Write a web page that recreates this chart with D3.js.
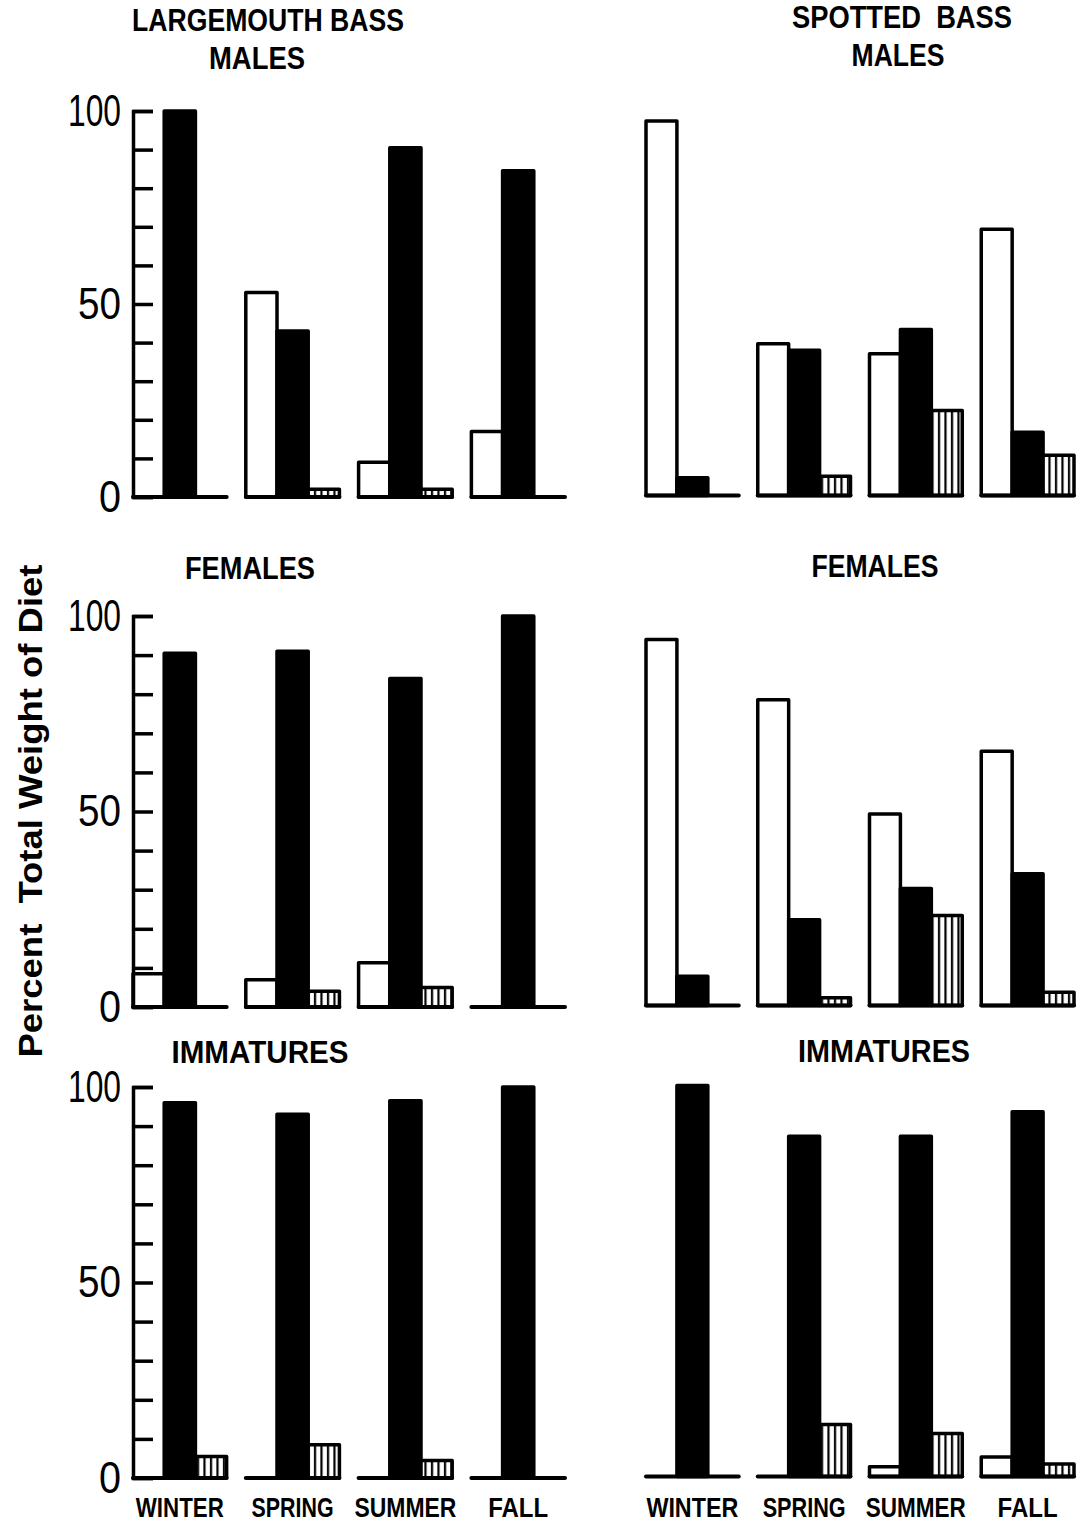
<!DOCTYPE html>
<html>
<head>
<meta charset="utf-8">
<script src="https://cdn.jsdelivr.net/npm/d3@7"></script>
<style>
    body { margin: 0; background: #fff; }
    svg { display: block; }
    text { white-space: pre; }
</style>
</head>
<body>
<div id="chartArea"></div>
<script>
// seasons along the bottom, three food bars per season
var seasons = ["WINTER", "SPRING", "SUMMER", "FALL"];
var kinds = ["open", "solid", "hatched"];
var yTicks = [0, 10, 20, 30, 40, 50, 60, 70, 80, 90, 100];
var yLabels = [0, 50, 100];

// percent total weight, rows = open / solid / hatched bars, one value per season
var lmMales = [[0, 53, 9, 17], [100, 43, 90.5, 84.5], [0, 2, 2, 0]];
var lmFemales = [[8.5, 7, 11.3, 0], [90.5, 91, 84, 100], [0, 4, 5, 0]];
var lmImmatures = [[0, 0, 0, 0], [96, 93, 96.5, 100], [5.5, 8.5, 4.5, 0]];
var sbMales = [[97, 39.3, 36.7, 69], [4.6, 37.6, 43, 16.4], [0, 5, 22, 10.4]];
var sbFemales = [[93.6, 78.2, 49, 65], [7.5, 21.9, 29.9, 33.7], [0, 2, 23, 3.4]];
var sbImmatures = [[0, 0, 2.5, 5], [100, 87, 87, 93.3], [0, 13.3, 11, 3.2]];

var W = 1086, H = 1526;

// layout of the grid
var cols = [
    { range: [133, 565], dy: 0, axis: true },
    { range: [646, 1074], dy: -1.5, axis: false }
];
var rows = [
    { y0: 497, y100: 111 },
    { y0: 1007, y100: 616 },
    { y0: 1478, y100: 1087 }
];

var panels = [
    { data: lmMales, col: 0, row: 0 },
    { data: sbMales, col: 1, row: 0 },
    { data: lmFemales, col: 0, row: 1 },
    { data: sbFemales, col: 1, row: 1 },
    { data: lmImmatures, col: 0, row: 2 },
    { data: sbImmatures, col: 1, row: 2 }
];

// title texts [text, centre x, baseline y, width]
var titles = [
    ["LARGEMOUTH BASS", 268, 31, 272],
    ["MALES", 257, 69, 96],
    ["SPOTTED  BASS", 902, 28, 220],
    ["MALES", 898, 66, 93],
    ["FEMALES", 250, 579, 130],
    ["FEMALES", 875, 577, 127],
    ["IMMATURES", 260, 1063, 177],
    ["IMMATURES", 884, 1062, 172]
];
var seasonWidths = [[88, 82, 102, 60], [92, 83, 100, 60]];
var tickWidths = { "100": 53, "50": 43, "0": 22 };

var svg = d3.select("#chartArea").append("svg")
    .attr("width", W)
    .attr("height", H);

svg.append("rect").attr("width", W).attr("height", H).attr("fill", "#fff");

// vertical line hatching
var pat = svg.append("defs").append("pattern")
    .attr("id", "vlines")
    .attr("patternUnits", "userSpaceOnUse")
    .attr("width", 6.5)
    .attr("height", 10);
pat.append("rect").attr("width", 6.5).attr("height", 10).attr("fill", "#fff");
pat.append("line")
    .attr("x1", 3).attr("x2", 3).attr("y1", 0).attr("y2", 10)
    .attr("stroke", "#000").attr("stroke-width", 2.2);

var fills = { open: "#fff", solid: "#000", hatched: "url(#vlines)" };

panels.forEach(function (p) {
    var col = cols[p.col], row = rows[p.row];
    var x = d3.scaleBand().domain(seasons).range(col.range).paddingInner(0.17);
    var xi = d3.scaleBand().domain(kinds).range([0, x.bandwidth()]);
    var y = d3.scaleLinear().domain([0, 100]).range([row.y0 + col.dy, row.y100 + col.dy]);

    var g = svg.append("g").attr("class", "panel");

    var bars = [];
    seasons.forEach(function (s, si) {
        kinds.forEach(function (k, ki) {
            var v = p.data[ki][si];
            if (v > 0) bars.push({ season: s, kind: k, value: v });
        });
    });

    g.selectAll("rect.bar")
        .data(bars)
        .enter().append("rect")
        .attr("class", "bar")
        .attr("x", d => x(d.season) + xi(d.kind))
        .attr("y", d => y(d.value))
        .attr("width", xi.bandwidth())
        .attr("height", d => y(0) - y(d.value))
        .attr("fill", d => fills[d.kind])
        .attr("stroke", "#000")
        .attr("stroke-width", 3.5)
        .attr("stroke-linejoin", "round");

    // baseline under each season group
    g.selectAll("line.base")
        .data(seasons)
        .enter().append("line")
        .attr("class", "base")
        .attr("x1", d => x(d))
        .attr("x2", d => x(d) + x.bandwidth())
        .attr("y1", y(0))
        .attr("y2", y(0))
        .attr("stroke", "#000")
        .attr("stroke-width", 4)
        .attr("stroke-linecap", "round");

    if (col.axis) {
        var axis = d3.axisLeft(y)
            .tickValues(yTicks)
            .tickSize(-20)
            .tickPadding(12)
            .tickFormat(d => yLabels.indexOf(d) >= 0 ? d : "");
        var ax = g.append("g")
            .attr("transform", "translate(" + col.range[0] + ",0)")
            .call(axis);
        ax.selectAll("path, line")
            .attr("stroke", "#000")
            .attr("stroke-width", 3.5);
        ax.selectAll("text")
            .attr("font-family", "Liberation Sans, Arial, sans-serif")
            .attr("font-size", 44)
            .attr("fill", "#000")
            .each(function (d) {
                var t = d3.select(this).text();
                if (tickWidths[t]) {
                    d3.select(this)
                        .attr("textLength", tickWidths[t])
                        .attr("lengthAdjust", "spacingAndGlyphs");
                }
            });
    }

    // season names below the last row
    if (p.row === 2) {
        g.selectAll("text.season")
            .data(seasons)
            .enter().append("text")
            .attr("class", "season")
            .attr("x", d => x(d) + x.bandwidth() / 2)
            .attr("y", 1517)
            .attr("text-anchor", "middle")
            .attr("font-family", "Liberation Sans, Arial, sans-serif")
            .attr("font-weight", "bold")
            .attr("font-size", 28)
            .attr("textLength", (d, i) => seasonWidths[p.col][i])
            .attr("lengthAdjust", "spacingAndGlyphs")
            .text(d => d);
    }
});

svg.selectAll("text.title")
    .data(titles)
    .enter().append("text")
    .attr("class", "title")
    .attr("x", d => d[1])
    .attr("y", d => d[2])
    .attr("text-anchor", "middle")
    .attr("font-family", "Liberation Sans, Arial, sans-serif")
    .attr("font-weight", "bold")
    .attr("font-size", 32)
    .attr("textLength", d => d[3])
    .attr("lengthAdjust", "spacingAndGlyphs")
    .text(d => d[0]);

// y axis title
svg.append("text")
    .attr("transform", "translate(42,811) rotate(-90)")
    .attr("text-anchor", "middle")
    .attr("font-family", "Liberation Sans, Arial, sans-serif")
    .attr("font-weight", "bold")
    .attr("font-size", 33)
    .attr("textLength", 493)
    .attr("lengthAdjust", "spacingAndGlyphs")
    .text("Percent  Total Weight of Diet");
</script>
</body>
</html>
